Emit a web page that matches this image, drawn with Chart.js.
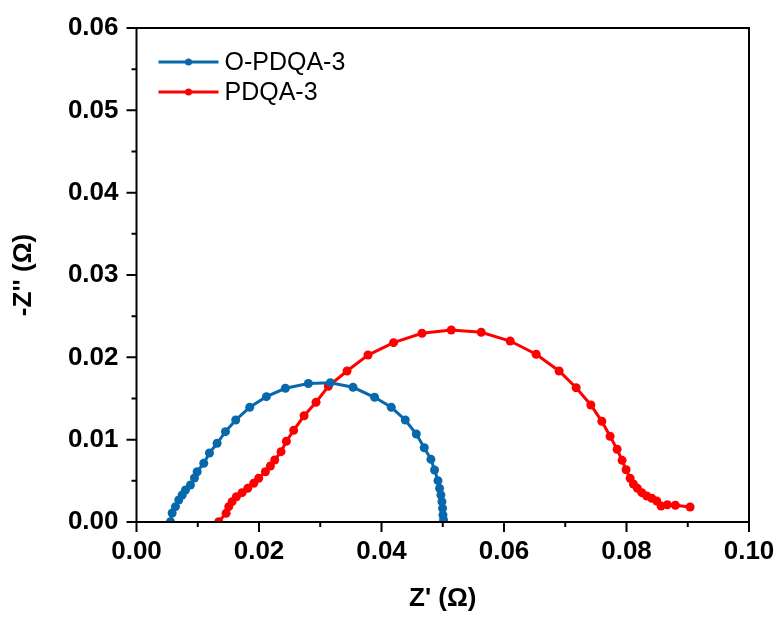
<!DOCTYPE html>
<html>
<head>
<meta charset="utf-8">
<title>Nyquist plot</title>
<script src="https://cdn.jsdelivr.net/npm/chart.js@4.4.1/dist/chart.umd.min.js"></script>
<style>
  body { margin: 0; background: #fff; }
  #nyquist { display: block; }
</style>
</head>
<body>
<canvas id="nyquist" width="780" height="618"></canvas>
<script>
// series names
const seriesNames = ['O-PDQA-3', 'PDQA-3'];

// O-PDQA-3 : Z' and -Z'' (ohm)
const oZre = [0.00555, 0.00582, 0.00636, 0.0069, 0.00746, 0.0080, 0.00881, 0.00946, 0.0099, 0.01098,
              0.01191, 0.01316, 0.01452, 0.0162, 0.01848, 0.02121, 0.02431, 0.02806, 0.03165, 0.03535,
              0.03887, 0.0416, 0.04388, 0.04568, 0.04698, 0.04807, 0.04866, 0.04922, 0.04948, 0.0497,
              0.04987, 0.04997, 0.05003, 0.05013];
const oZim = [0.00004, 0.00109, 0.00186, 0.00267, 0.00328, 0.00389, 0.0045, 0.00534, 0.00611, 0.00713,
              0.00838, 0.00956, 0.01097, 0.01239, 0.01393, 0.01522, 0.01624, 0.01682, 0.01692, 0.01636,
              0.01515, 0.01393, 0.01239, 0.01069, 0.00902, 0.00761, 0.00632, 0.00502, 0.00409, 0.00328,
              0.00247, 0.00166, 0.00085, 0.00024];

// PDQA-3 : Z' and -Z'' (ohm)
const pZre = [0.01343, 0.01463, 0.01506, 0.01561, 0.01631, 0.01724, 0.01816, 0.01914, 0.01995, 0.02104,
              0.02186, 0.02256, 0.0236, 0.02447, 0.02566, 0.02736, 0.02931, 0.03132, 0.03437, 0.0378,
              0.04197, 0.04661, 0.05139, 0.05628, 0.06101, 0.06525, 0.069, 0.07178, 0.07418, 0.07597,
              0.07732, 0.07847, 0.07928, 0.07993, 0.08059, 0.08113, 0.08178, 0.0825, 0.08331, 0.08413,
              0.08494, 0.08564, 0.08667, 0.08798, 0.09038];
const pZim = [0.00004, 0.00106, 0.00186, 0.00247, 0.00307, 0.00356, 0.00409, 0.0047, 0.00531, 0.00611,
              0.0068, 0.00753, 0.00854, 0.00981, 0.01113, 0.0129, 0.01454, 0.01649, 0.01834, 0.02028,
              0.02178, 0.02292, 0.02332, 0.02304, 0.02198, 0.02037, 0.01834, 0.01631, 0.01421, 0.01223,
              0.01041, 0.00883, 0.00749, 0.00635, 0.00531, 0.00462, 0.00409, 0.00356, 0.00316, 0.00288,
              0.00255, 0.00194, 0.0021, 0.00203, 0.00182];

// axis ticks
const xMajor = [0, 0.02, 0.04, 0.06, 0.08, 0.10];
const xMinor = [0.01, 0.03, 0.05, 0.07, 0.09];
const yMajor = [0, 0.01, 0.02, 0.03, 0.04, 0.05, 0.06];
const yMinor = [0.005, 0.015, 0.025, 0.035, 0.045, 0.055];

const BLUE = '#0868AC';
const RED = '#FF0000';
const FONT = "'Liberation Sans', Arial, sans-serif";

function toPoints(xs, ys) {
    return xs.map((x, i) => ({x: x, y: ys[i]}));
}

// fixed box size, no label overhang padding (plot area set by layout padding)
function fixBox(size, horizontal) {
    return s => {
        if (horizontal) s.height = size; else s.width = size;
        s.paddingTop = 0; s.paddingBottom = 0; s.paddingLeft = 0; s.paddingRight = 0;
    };
}

// frame + outward ticks (major and minor), drawn through the scales
const framePlugin = {
    id: 'frame',
    afterDatasetsDraw(chart) {
        const ctx = chart.ctx;
        const a = chart.chartArea;
        const xs = chart.scales.x, ys = chart.scales.y;
        ctx.save();
        ctx.strokeStyle = '#000';
        ctx.lineWidth = 2;
        ctx.strokeRect(a.left, a.top, a.right - a.left, a.bottom - a.top);
        ctx.beginPath();
        xMajor.forEach(v => { const p = xs.getPixelForValue(v); ctx.moveTo(p, a.bottom); ctx.lineTo(p, a.bottom + 10); });
        xMinor.forEach(v => { const p = xs.getPixelForValue(v); ctx.moveTo(p, a.bottom); ctx.lineTo(p, a.bottom + 5); });
        yMajor.forEach(v => { const p = ys.getPixelForValue(v); ctx.moveTo(a.left, p); ctx.lineTo(a.left - 10, p); });
        yMinor.forEach(v => { const p = ys.getPixelForValue(v); ctx.moveTo(a.left, p); ctx.lineTo(a.left - 5, p); });
        ctx.stroke();
        ctx.restore();
    }
};

// legend with line + marker sample, top-left inside the plot
const legendPlugin = {
    id: 'lineLegend',
    afterDraw(chart) {
        const ctx = chart.ctx;
        const a = chart.chartArea;
        ctx.save();
        ctx.font = '25px ' + FONT;
        ctx.textBaseline = 'middle';
        chart.data.datasets.forEach((ds, i) => {
            const y = a.top + 34 + i * 30;
            const x0 = a.left + 22, x1 = a.left + 82;
            ctx.strokeStyle = ds.borderColor;
            ctx.lineWidth = 3;
            ctx.beginPath();
            ctx.moveTo(x0, y);
            ctx.lineTo(x1, y);
            ctx.stroke();
            ctx.fillStyle = ds.backgroundColor;
            ctx.beginPath();
            ctx.arc((x0 + x1) / 2, y, 3.5, 0, Math.PI * 2);
            ctx.fill();
            ctx.fillStyle = '#000';
            ctx.fillText(ds.label, x1 + 6, y + 1);
        });
        ctx.restore();
    }
};

new Chart(document.getElementById('nyquist'), {
    type: 'scatter',
    data: {
        datasets: [
            {
                label: seriesNames[0],
                data: toPoints(oZre, oZim),
                showLine: true,
                borderColor: BLUE,
                backgroundColor: BLUE,
                borderWidth: 3,
                pointRadius: 4.5,
                pointBorderWidth: 0
            },
            {
                label: seriesNames[1],
                data: toPoints(pZre, pZim),
                showLine: true,
                borderColor: RED,
                backgroundColor: RED,
                borderWidth: 3,
                pointRadius: 4.5,
                pointBorderWidth: 0
            }
        ]
    },
    options: {
        responsive: false,
        animation: false,
        layout: {padding: {top: 28, right: 31, left: 0, bottom: 0}},
        plugins: {legend: {display: false}, tooltip: {enabled: false}},
        scales: {
            x: {
                type: 'linear',
                min: 0,
                max: 0.10,
                afterFit: fixBox(96, true),
                grid: {display: false, drawTicks: false},
                border: {display: false},
                ticks: {
                    stepSize: 0.02,
                    padding: 14,
                    color: '#000',
                    font: {family: FONT, size: 26, weight: 'bold'},
                    callback: v => v.toFixed(2)
                },
                title: {
                    display: true,
                    text: "Z' (\u03A9)",
                    color: '#000',
                    padding: {top: 0, bottom: 4},
                    font: {family: FONT, size: 26, weight: 'bold'}
                }
            },
            y: {
                type: 'linear',
                min: 0,
                max: 0.06,
                afterFit: fixBox(136.5, false),
                grid: {display: false, drawTicks: false},
                border: {display: false},
                ticks: {
                    stepSize: 0.01,
                    padding: 18,
                    color: '#000',
                    font: {family: FONT, size: 26, weight: 'bold'},
                    callback: v => v.toFixed(2)
                },
                title: {
                    display: true,
                    text: "-Z'' (\u03A9)",
                    color: '#000',
                    padding: {top: 8, bottom: 0},
                    font: {family: FONT, size: 26, weight: 'bold'}
                }
            }
        }
    },
    plugins: [framePlugin, legendPlugin]
});
</script>
</body>
</html>
